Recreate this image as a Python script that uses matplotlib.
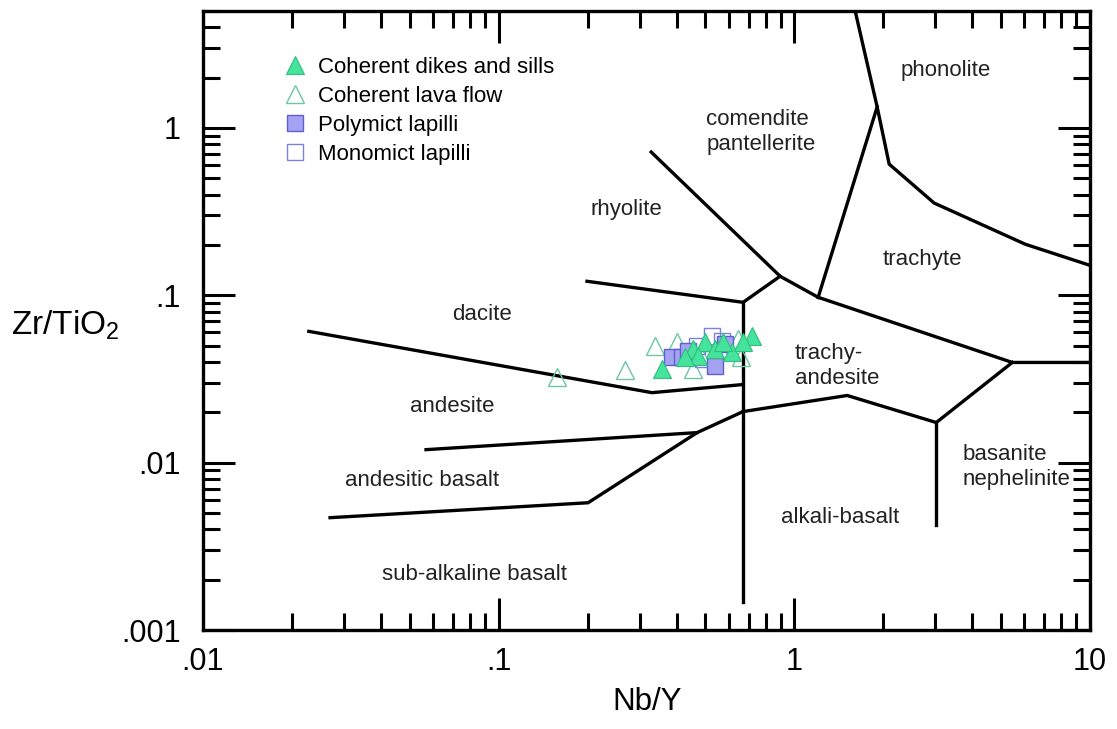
import matplotlib
matplotlib.use("Agg")
import matplotlib.pyplot as plt
from matplotlib.ticker import FixedLocator, NullFormatter, LogLocator

plt.rcParams['font.family'] = ['Liberation Sans', 'DejaVu Sans']
plt.rcParams['mathtext.fontset'] = 'custom'
plt.rcParams['mathtext.rm'] = 'Liberation Sans'
plt.rcParams['mathtext.it'] = 'Liberation Sans'

# ---------------- data ----------------
dikes_x = [0.357, 0.455, 0.499, 0.540, 0.473, 0.616, 0.719, 0.671, 0.574, 0.427]
dikes_y = [0.0361, 0.0475, 0.0523, 0.0475, 0.0431, 0.0456, 0.0568, 0.0523, 0.0523, 0.0425]

lava_x = [0.158, 0.268, 0.338, 0.402, 0.455, 0.646, 0.658, 0.480, 0.561]
lava_y = [0.0323, 0.0356, 0.0495, 0.0523, 0.0361, 0.0545, 0.0425, 0.0443, 0.0475]

poly_x = [0.386, 0.418, 0.540, 0.437, 0.583]
poly_y = [0.0425, 0.0425, 0.0376, 0.0462, 0.0509]

mono_x = [0.527, 0.469, 0.570, 0.491]
mono_y = [0.0568, 0.0495, 0.0530, 0.0414]

series_labels = ["Coherent dikes and sills", "Coherent lava flow",
                 "Polymict lapilli", "Monomict lapilli"]

# field boundaries (Nb/Y, Zr/TiO2)
boundaries = {
    "dacite_andesite": ([0.0228, 0.330, 0.671], [0.0609, 0.0262, 0.0293]),
    "rhyolite_dacite": ([0.199, 0.671, 0.895], [0.1213, 0.0908, 0.130]),
    "rhyolite_comendite": ([0.328, 0.895, 1.204], [0.718, 0.130, 0.0973]),
    "comendite_trachyte": ([1.204, 1.906], [0.0973, 1.336]),
    "phonolite": ([1.606, 1.906, 2.093, 2.97, 6.04, 10.0], [5.0, 1.336, 0.608, 0.356, 0.202, 0.151]),
    "trachyte_trachyandesite": ([1.204, 5.46, 10.0], [0.0973, 0.0397, 0.0397]),
    "trachyandesite_basanite": ([5.46, 3.02], [0.0397, 0.01737]),
    "trachyandesite_alkali": ([0.671, 1.509, 3.02], [0.0202, 0.0252, 0.01737]),
    "basanite_alkali": ([3.02, 3.02], [0.01737, 0.00425]),
    "subalkaline_alkali": ([0.671, 0.671], [0.0908, 0.00147]),
    "andesite_andbasalt": ([0.0568, 0.469], [0.01196, 0.01512]),
    "andbasalt_subalk": ([0.0269, 0.2007, 0.469, 0.671], [0.00469, 0.00576, 0.01512, 0.0202]),
}

# field labels: (text, x, y, ha)
field_labels = [
    ("phonolite", 3.24, 2.22, "center"),
    ("comendite\npantellerite", 0.503, 0.946, "left"),
    ("rhyolite", 0.27, 0.327, "center"),
    ("trachyte", 2.71, 0.164, "center"),
    ("dacite", 0.0879, 0.0769, "center"),
    ("trachy-\nandesite", 1.006, 0.0376, "left"),
    ("andesite", 0.0696, 0.0216, "center"),
    ("andesitic basalt", 0.0551, 0.0078, "center"),
    ("basanite\nnephelinite", 3.72, 0.00946, "left"),
    ("alkali-basalt", 1.43, 0.00469, "center"),
    ("sub-alkaline basalt", 0.0826, 0.00216, "center"),
]

x_ticks = [0.01, 0.1, 1, 10]
x_ticklabels = [".01", ".1", "1", "10"]
y_ticks = [0.001, 0.01, 0.1, 1]
y_ticklabels = [".001", ".01", ".1", "1"]

# ---------------- figure ----------------
fig = plt.figure(figsize=(11.17, 7.29), dpi=100)
ax = fig.add_axes([203/1117, 99/729, 887/1117, 619/729])
ax.set_xscale("log")
ax.set_yscale("log")
ax.set_xlim(0.01, 10)
ax.set_ylim(0.001, 5.0)

for name, (bx, by) in boundaries.items():
    ax.plot(bx, by, color="black", lw=2.4, solid_joinstyle="miter", zorder=2)

for txt, tx, ty, ha in field_labels:
    ax.text(tx, ty, txt, ha=ha, va="center", fontsize=16, color="#222222",
            linespacing=1.25, zorder=3)

ax.plot(lava_x, lava_y, linestyle="none", marker="^", ms=13, mfc="none",
        mec="#6cc7a2", mew=1.0, label=series_labels[1], zorder=4)
ax.plot(mono_x, mono_y, linestyle="none", marker="s", ms=11.5, mfc="none",
        mec="#7f7fdc", mew=1.0, label=series_labels[3], zorder=4)
ax.plot(poly_x, poly_y, linestyle="none", marker="s", ms=11.5, mfc="#a3a3f2",
        mec="#5f5fd2", mew=1.0, label=series_labels[2], zorder=5)
ax.plot(dikes_x, dikes_y, linestyle="none", marker="^", ms=13, mfc="#45e39b",
        mec="#2fbf7f", mew=0.8, label=series_labels[0], zorder=6)

handles, labels = ax.get_legend_handles_labels()
order = [labels.index(l) for l in series_labels]
leg = ax.legend([handles[i] for i in order], [labels[i] for i in order],
                loc="upper left", bbox_to_anchor=(0.0925, 0.926),
                frameon=False, fontsize=16, borderpad=0, borderaxespad=0,
                handlelength=0.9, handletextpad=0.6, labelspacing=0.36,
                markerscale=0.95)

ax.xaxis.set_major_locator(FixedLocator(x_ticks))
ax.set_xticklabels(x_ticklabels)
ax.yaxis.set_major_locator(FixedLocator(y_ticks))
ax.set_yticklabels(y_ticklabels)
ax.xaxis.set_minor_locator(LogLocator(base=10, subs=range(2, 10), numticks=20))
ax.yaxis.set_minor_locator(LogLocator(base=10, subs=range(2, 10), numticks=20))
ax.xaxis.set_minor_formatter(NullFormatter())
ax.yaxis.set_minor_formatter(NullFormatter())

ax.tick_params(which="both", direction="in", top=True, right=True, width=2.2, color="black")
ax.tick_params(which="major", length=23)
ax.tick_params(which="minor", length=12)
ax.tick_params(axis="x", which="major", labelsize=22, pad=12)
ax.tick_params(axis="y", which="major", labelsize=22, pad=16)

for sp in ax.spines.values():
    sp.set_linewidth(2.4)

fig.text(647/1117, 1 - 702/729, "Nb/Y", ha="center", va="center", fontsize=22.5)
fig.text(65/1117, 1 - 325/729, r"Zr/TiO$_2$", ha="center", va="center", fontsize=24)

fig.savefig("out.png", dpi=100)
